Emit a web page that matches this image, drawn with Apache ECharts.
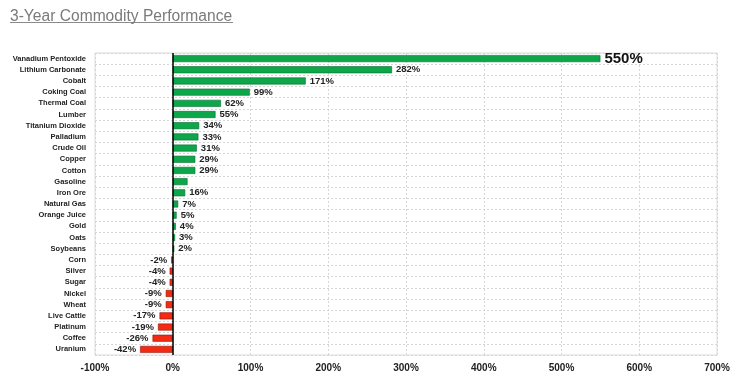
<!DOCTYPE html>
<html>
<head>
<meta charset="utf-8">
<script src="https://cdn.jsdelivr.net/npm/echarts@6/dist/echarts.min.js"></script>
<style>html,body{margin:0;padding:0;background:#fff}#c{width:740px;height:389px}</style>
</head>
<body>
<div id="c"></div>
<script>
const categories = ["Vanadium Pentoxide","Lithium Carbonate","Cobalt","Coking Coal","Thermal Coal","Lumber","Titanium Dioxide","Palladium","Crude Oil","Copper","Cotton","Gasoline","Iron Ore","Natural Gas","Orange Juice","Gold","Oats","Soybeans","Corn","Silver","Sugar","Nickel","Wheat","Live Cattle","Platinum","Coffee","Uranium"];
const values = [550,282,171,99,62,55,34,33,31,29,29,19,16,7,5,4,3,2,-2,-4,-4,-9,-9,-17,-19,-26,-42];
const hiddenLabels = ["Gasoline"];
const highlight = "Vanadium Pentoxide";
const xTicks = {min:-100, max:700, interval:100};

const font = "'Liberation Sans', Arial, sans-serif";
const data = values.map((v, i) => {
  const d = {
    value: v,
    itemStyle: { color: v >= 0 ? '#0da64a' : '#f52a12', borderColor: v >= 0 ? '#0a6e30' : '#8a1a0a', borderWidth: 0.6 },
    label: { position: v >= 0 ? 'right' : 'left' }
  };
  if (hiddenLabels.includes(categories[i])) d.label.show = false;
  if (categories[i] === highlight) { d.label.fontSize = 15; d.label.color = '#111'; }
  return d;
});

const chart = echarts.init(document.getElementById('c'), null, {renderer:'canvas'});
chart.setOption({
  animation: false,
  title: {
    text: '3-Year Commodity Performance', left: 5, top: 4,
    textStyle: { fontFamily: font, fontSize: 15.6, fontWeight: 'normal', color: '#7a7a7a' }
  },
  graphic: [{ type: 'line', shape: { x1: 10, y1: 22.5, x2: 233, y2: 22.5 }, style: { stroke: '#8a8a8a', lineWidth: 1 } }],
  grid: { left: 95, right: 23, top: 53, bottom: 34, show: true, borderColor: '#dcdcdc', borderWidth: 1 },
  xAxis: {
    type: 'value', min: xTicks.min, max: xTicks.max, interval: xTicks.interval,
    axisLine: { show: false }, axisTick: { show: false },
    axisLabel: { formatter: '{value}%', fontFamily: font, fontSize: 10, fontWeight: 'bold', color: '#222', margin: 8 },
    splitLine: { show: true, lineStyle: { color: '#d6d6d6', type: [2, 2], width: 1 } }
  },
  yAxis: {
    type: 'category', data: categories, inverse: true,
    axisLine: { show: false }, axisTick: { show: false },
    axisLabel: { fontFamily: font, fontSize: 7.5, fontWeight: 'bold', color: '#222', margin: 9, interval: 0 },
    splitLine: { show: true, interval: 0, lineStyle: { color: '#d6d6d6', type: [2, 2], width: 1 } }
  },
  series: [{
    type: 'bar', data: data, barWidth: 7,
    label: { show: true, formatter: '{c}%', fontFamily: font, fontSize: 9.5, fontWeight: 'bold', color: '#222', distance: 4 },
    markLine: {
      silent: true, symbol: 'none', label: { show: false },
      lineStyle: { color: '#000', type: 'solid', width: 1.5 },
      data: [{ xAxis: 0 }]
    }
  }]
});
</script>
</body>
</html>
